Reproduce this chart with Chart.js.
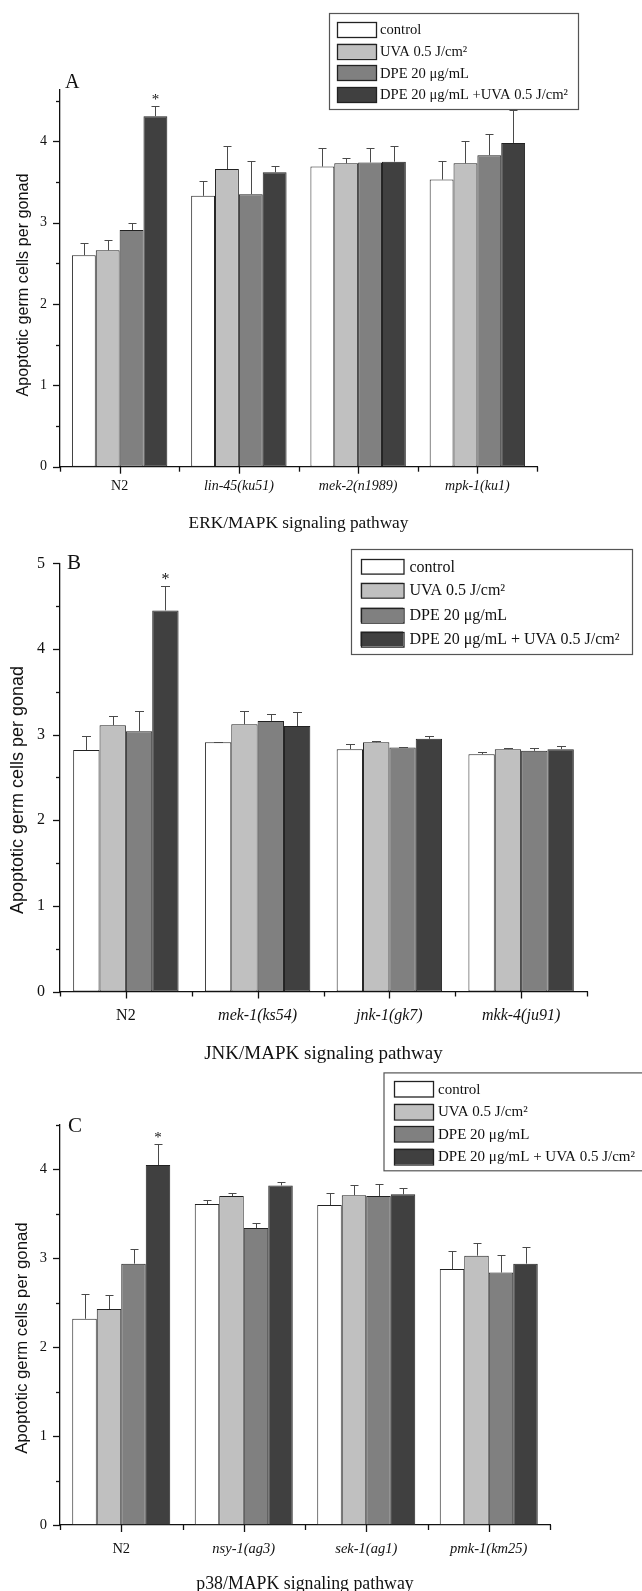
<!DOCTYPE html>
<html>
<head>
<meta charset="utf-8">
<script src="https://cdn.jsdelivr.net/npm/chart.js@4.4.1/dist/chart.umd.min.js"></script>
<style>
  html, body { margin: 0; padding: 0; background: #fff; }
  #page { position: relative; width: 642px; height: 1591px; overflow: hidden; background: #fff; }
  #page canvas { position: absolute; left: 0; }
</style>
</head>
<body>
<div id="page">
  <canvas id="panelA" width="642" height="535" style="top:0px"></canvas>
  <canvas id="panelB" width="642" height="530" style="top:535px"></canvas>
  <canvas id="panelC" width="642" height="531" style="top:1060px"></canvas>
</div>
<script>
// ---- data -------------------------------------------------------------
const treatmentsA = ['control', 'UVA 0.5 J/cm\u00B2', 'DPE 20 \u03BCg/mL', 'DPE 20 \u03BCg/mL +UVA 0.5 J/cm\u00B2'];
const treatmentsBC = ['control', 'UVA 0.5 J/cm\u00B2', 'DPE 20 \u03BCg/mL', 'DPE 20 \u03BCg/mL + UVA 0.5 J/cm\u00B2'];

// A: ERK/MAPK
const strainsA = ['N2', 'lin-45(ku51)', 'mek-2(n1989)', 'mpk-1(ku1)'];
const controlA = [2.60, 3.33, 3.69, 3.53];
const uvaA     = [2.66, 3.66, 3.73, 3.73];
const dpeA     = [2.91, 3.35, 3.74, 3.83];
const dpeUvaA  = [4.31, 3.62, 3.75, 3.98];
const errControlA = [0.15, 0.18, 0.23, 0.23];
const errUvaA     = [0.13, 0.28, 0.06, 0.28];
const errDpeA     = [0.09, 0.41, 0.18, 0.26];
const errDpeUvaA  = [0.13, 0.08, 0.19, 0.41];

// B: JNK/MAPK
const strainsB = ['N2', 'mek-1(ks54)', 'jnk-1(gk7)', 'mkk-4(ju91)'];
const controlB = [2.82, 2.91, 2.83, 2.77];
const uvaB     = [3.11, 3.12, 2.91, 2.83];
const dpeB     = [3.04, 3.16, 2.85, 2.81];
const dpeUvaB  = [4.45, 3.10, 2.95, 2.83];
const errControlB = [0.16, 0.00, 0.06, 0.03];
const errUvaB     = [0.11, 0.16, 0.015, 0.015];
const errDpeB     = [0.24, 0.08, 0.01, 0.03];
const errDpeUvaB  = [0.29, 0.16, 0.035, 0.035];

// C: p38/MAPK
const strainsC = ['N2', 'nsy-1(ag3)', 'sek-1(ag1)', 'pmk-1(km25)'];
const controlC = [2.32, 3.61, 3.60, 2.88];
const uvaC     = [2.43, 3.70, 3.71, 3.03];
const dpeC     = [2.94, 3.34, 3.70, 2.84];
const dpeUvaC  = [4.05, 3.82, 3.72, 2.94];
const errControlC = [0.28, 0.05, 0.13, 0.20];
const errUvaC     = [0.16, 0.03, 0.11, 0.14];
const errDpeC     = [0.17, 0.06, 0.14, 0.20];
const errDpeUvaC  = [0.24, 0.04, 0.07, 0.19];

// [dataset index, category index] of bars marked significant
const significantA = [[3, 0]];
const significantB = [[3, 0]];
const significantC = [[3, 0]];

const yTitle = 'Apoptotic germ cells per gonad';

// ---- styling -----------------------------------------------------------
const SERIF = '"Liberation Serif", "Times New Roman", serif';
const SANS = '"Liberation Sans", Arial, sans-serif';
const fills = ['#ffffff', '#c0c0c0', '#808080', '#404040'];
const INK = '#111111';

// draws axis ticks, error bars, significance marks, titles and the legend box
const panelDecor = {
  id: 'panelDecor',
  afterDatasetsDraw(chart) {
    const d = chart.options.plugins.panelDecor;
    const ctx = chart.ctx;
    const ys = chart.scales.y;
    ctx.save();
    ctx.strokeStyle = '#4a4a4a';
    ctx.lineWidth = 1;
    chart.data.datasets.forEach((ds, i) => {
      const meta = chart.getDatasetMeta(i);
      meta.data.forEach((bar, j) => {
        const v = ds.data[j];
        const e = d.errors[i][j];
        const yTop = Math.round(ys.getPixelForValue(v + e)) + 0.5;
        const yBar = ys.getPixelForValue(v);
        const x = Math.round(bar.x) + 0.5;
        ctx.beginPath();
        ctx.moveTo(x, yBar);
        ctx.lineTo(x, yTop);
        ctx.moveTo(x - d.cap, yTop);
        ctx.lineTo(x + d.cap, yTop);
        ctx.stroke();
      });
    });
    // significance asterisks
    ctx.fillStyle = INK;
    ctx.font = `${d.starSize}px ${SERIF}`;
    ctx.textAlign = 'center';
    ctx.textBaseline = 'alphabetic';
    d.significant.forEach(([i, j]) => {
      const bar = chart.getDatasetMeta(i).data[j];
      const v = chart.data.datasets[i].data[j] + d.errors[i][j];
      ctx.fillText('*', bar.x, ys.getPixelForValue(v) - 2);
    });
    ctx.restore();
  },
  afterDraw(chart) {
    const d = chart.options.plugins.panelDecor;
    const ctx = chart.ctx;
    const xs = chart.scales.x, ys = chart.scales.y;
    const area = chart.chartArea;
    ctx.save();
    ctx.strokeStyle = INK;
    ctx.lineWidth = 1.3;
    // y ticks: integers long, halves short, pointing outward
    for (let v = 0; v <= ys.max + 1e-9; v += 0.5) {
      const py = Math.round(ys.getPixelForValue(v)) + 0.5;
      const len = Number.isInteger(v) ? 7 : 4;
      ctx.beginPath();
      ctx.moveTo(area.left - len, py);
      ctx.lineTo(area.left, py);
      ctx.stroke();
    }
    // x ticks: long under each category, short between categories
    const n = chart.data.labels.length;
    for (let i = 0; i < n; i++) {
      const px = Math.round(xs.getPixelForValue(i)) + 0.5;
      ctx.beginPath();
      ctx.moveTo(px, area.bottom);
      ctx.lineTo(px, area.bottom + 7);
      ctx.stroke();
    }
    for (let i = 0; i <= n; i++) {
      const px = Math.round(xs.getPixelForValue(i - 0.5)) + 0.5;
      ctx.beginPath();
      ctx.moveTo(px, area.bottom);
      ctx.lineTo(px, area.bottom + 5);
      ctx.stroke();
    }
    ctx.fillStyle = INK;
    // panel letter
    ctx.font = `${d.letterSize}px ${SERIF}`;
    ctx.textAlign = 'left';
    ctx.textBaseline = 'middle';
    ctx.fillText(d.letter, d.letterPos[0], d.letterPos[1]);
    // x title
    ctx.font = `${d.xTitleSize}px ${SERIF}`;
    ctx.textAlign = 'center';
    ctx.fillText(d.xTitle, (area.left + area.right) / 2, d.xTitleY);
    // y title
    ctx.save();
    ctx.translate(d.yTitlePos[0], d.yTitlePos[1]);
    ctx.rotate(-Math.PI / 2);
    ctx.font = `${d.yTitleSize}px ${SANS}`;
    ctx.fillText(yTitle, 0, 0);
    ctx.restore();
    // legend
    const L = d.legendBox;
    ctx.strokeStyle = '#555';
    ctx.lineWidth = 1.2;
    ctx.strokeRect(L.x0 + 0.5, L.y0 + 0.5, L.x1 - L.x0, L.y1 - L.y0);
    ctx.font = `${L.font}px ${SERIF}`;
    ctx.textAlign = 'left';
    ctx.textBaseline = 'middle';
    chart.data.datasets.forEach((ds, i) => {
      const cy = L.rows[i];
      ctx.fillStyle = ds.backgroundColor;
      ctx.fillRect(L.sx, cy - L.sh / 2, L.sw, L.sh);
      ctx.strokeStyle = '#222';
      ctx.lineWidth = 1.3;
      ctx.strokeRect(Math.round(L.sx) + 0.5, Math.round(cy - L.sh / 2) + 0.5, L.sw, L.sh);
      ctx.fillStyle = INK;
      ctx.fillText(ds.label, L.tx, cy + 1);
    });
    ctx.restore();
  }
};

function makePanel(canvasId, p) {
  const datasets = p.series.map((vals, i) => ({
    label: p.legend[i],
    data: vals,
    backgroundColor: fills[i],
    borderColor: '#222',
    borderWidth: 1,
    borderSkipped: false
  }));
  return new Chart(document.getElementById(canvasId), {
    type: 'bar',
    data: { labels: p.labels, datasets },
    plugins: [panelDecor],
    options: {
      responsive: false,
      animation: false,
      devicePixelRatio: 1,
      events: [],
      layout: { padding: { top: p.plot.top, right: 642 - p.plot.right, bottom: 0, left: 0 } },
      datasets: { bar: { categoryPercentage: 0.8, barPercentage: 1.0 } },
      plugins: {
        legend: { display: false },
        tooltip: { enabled: false },
        panelDecor: p.decor
      },
      scales: {
        x: {
          type: 'category',
          z: 1,
          grid: { display: false, drawTicks: false },
          border: { display: true, color: INK, width: 1.3 },
          ticks: {
            color: INK,
            padding: p.xPad,
            maxRotation: 0,
            autoSkip: false,
            font: (c) => ({ family: SERIF, size: p.xFont, style: c.index === 0 ? 'normal' : 'italic' })
          },
          afterFit: (s) => { s.height = p.h - p.plot.bottom; }
        },
        y: {
          min: 0,
          max: p.yMax,
          z: 1,
          grid: { display: false, drawTicks: false },
          border: { display: true, color: INK, width: 1.3 },
          ticks: {
            stepSize: 0.5,
            autoSkip: false,
            padding: p.yPad,
            color: INK,
            font: { family: SERIF, size: p.yFont },
            callback: (v) => (Number.isInteger(v) ? String(v) : '')
          },
          afterFit: (s) => { s.width = 60; }
        }
      }
    }
  });
}

makePanel('panelA', {
  labels: strainsA,
  legend: treatmentsA,
  series: [controlA, uvaA, dpeA, dpeUvaA],
  h: 535,
  plot: { top: 89.3, bottom: 466.7, right: 537 },
  yMax: 4.64,
  xFont: 14, yFont: 14, xPad: 11, yPad: 13,
  decor: {
    errors: [errControlA, errUvaA, errDpeA, errDpeUvaA],
    significant: significantA,
    cap: 4, starSize: 15,
    letter: 'A', letterSize: 20, letterPos: [65, 83],
    xTitle: 'ERK/MAPK signaling pathway', xTitleSize: 17.3, xTitleY: 523,
    yTitlePos: [23.5, 285], yTitleSize: 16.2,
    legendBox: { x0: 329, y0: 13, x1: 578, y1: 109, sx: 337, sw: 39, sh: 15,
                 rows: [29.2, 51, 72.8, 94.5], tx: 380, font: 14.6 }
  }
});

makePanel('panelB', {
  labels: strainsB,
  legend: treatmentsBC,
  series: [controlB, uvaB, dpeB, dpeUvaB],
  h: 530,
  plot: { top: 28.3, bottom: 456.5, right: 587 },
  yMax: 5,
  xFont: 16, yFont: 16, xPad: 15, yPad: 15,
  decor: {
    errors: [errControlB, errUvaB, errDpeB, errDpeUvaB],
    significant: significantB,
    cap: 4.5, starSize: 16,
    letter: 'B', letterSize: 21, letterPos: [67, 28],
    xTitle: 'JNK/MAPK signaling pathway', xTitleSize: 19, xTitleY: 519,
    yTitlePos: [18.5, 255], yTitleSize: 18,
    legendBox: { x0: 351, y0: 14, x1: 632, y1: 119, sx: 360.5, sw: 42.5, sh: 14.6,
                 rows: [31.6, 54.8, 79.8, 103.8], tx: 409.5, font: 16 }
  }
});

makePanel('panelC', {
  labels: strainsC,
  legend: treatmentsBC,
  series: [controlC, uvaC, dpeC, dpeUvaC],
  h: 531,
  plot: { top: 65, bottom: 465, right: 550 },
  yMax: 4.5,
  xFont: 14.5, yFont: 14.5, xPad: 15, yPad: 13,
  decor: {
    errors: [errControlC, errUvaC, errDpeC, errDpeUvaC],
    significant: significantC,
    cap: 4, starSize: 15,
    letter: 'C', letterSize: 21, letterPos: [68, 66],
    xTitle: 'p38/MAPK signaling pathway', xTitleSize: 17.8, xTitleY: 524,
    yTitlePos: [22.6, 278], yTitleSize: 16.8,
    legendBox: { x0: 383.5, y0: 12.4, x1: 700, y1: 110.3, sx: 394, sw: 39, sh: 15.5,
                 rows: [28.8, 51.3, 74, 96.4], tx: 438, font: 15 }
  }
});
</script>
</body>
</html>
